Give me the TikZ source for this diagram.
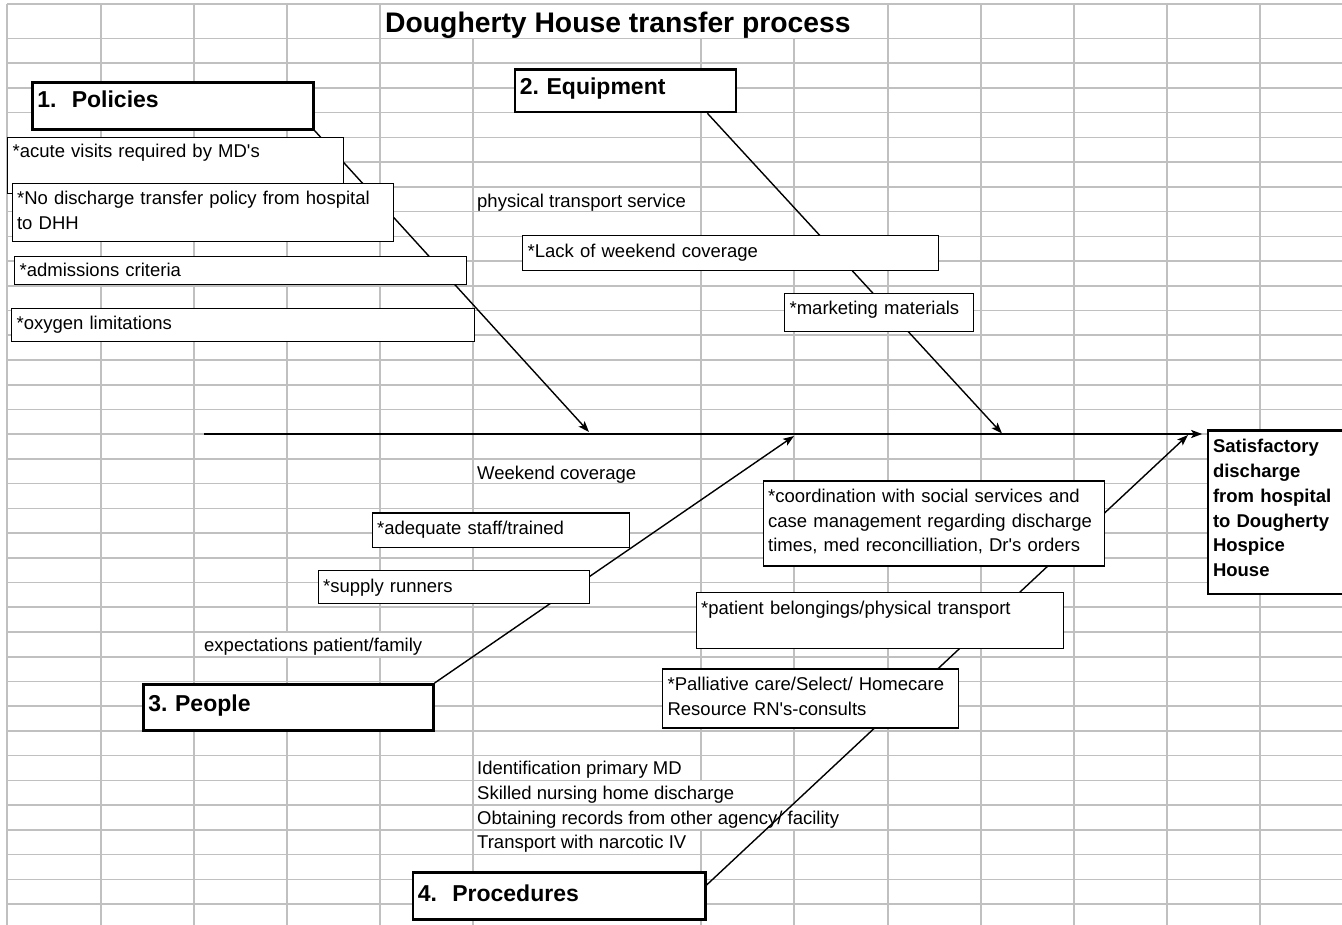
\documentclass[tikz,border=0pt]{standalone}
\usepackage{fontspec}
\defaultfontfeatures[\rmfamily,\sffamily]{}
\setmainfont{Liberation Sans}
\usetikzlibrary{arrows.meta}
\definecolor{gridgray}{RGB}{192,192,192}
\frenchspacing
\newcommand\causefont{\frenchspacing\fontsize{18.5}{24.5}\selectfont}
\newcommand\headfont{\frenchspacing\bfseries\fontsize{23}{27}\selectfont}
\newcommand\outfont{\frenchspacing\bfseries\fontsize{18.5}{24.7}\selectfont}
\newcommand\titlefont{\frenchspacing\bfseries\fontsize{28.3}{32}\selectfont}
\pgfdeclarelayer{gridlayer}
\pgfdeclarelayer{linelayer}
\pgfsetlayers{gridlayer,linelayer,main}
% #1 style, #2 name, #3 x, #4 y(top), #5 width, #6 height, #7 first baseline offset, #8 text
\newcommand\mkbox[8]{%
  \pgfmathsetmacro\mkbW{#5-10}%
  \pgfmathsetmacro\mkbD{#6-#7}%
  \node[#1, text width=\mkbW pt, text height=#7pt, text depth=\mkbD pt] (#2) at (#3,#4) {#8};}
\tikzset{
  gridline/.style={draw=gridgray, line width=1.6pt},
  cause/.style={draw=black, line width=1.2pt, fill=white, inner xsep=5pt, inner ysep=0pt, anchor=north west, align=left, font=\causefont},
  head/.style={draw=black, line width=2.6pt, fill=white, inner xsep=5pt, inner ysep=0pt, anchor=north west, align=left, font=\headfont},
  outbox/.style={head, font=\outfont},
  plain/.style={inner sep=0pt, anchor=base west, font=\causefont},
  spine/.style={line width=1.4pt, -{Stealth[length=11pt,width=8pt,inset=2.5pt]}},
  axisline/.style={line width=2pt, -{Stealth[length=11pt,width=8pt,inset=2.5pt]}},
}
\begin{document}
\begin{tikzpicture}[x=1pt,y=-1pt]
\useasboundingbox (0,0) rectangle (1342,925);
\begin{pgfonlayer}{gridlayer}
  \fill[white] (0,0) rectangle (1342,925);
  \draw[gridline] (7,4) -- (1342,4);
  \foreach \k in {0,...,35} \draw[gridline] (7,{38.5+24.73*\k}) -- (1342,{38.5+24.73*\k});
  \foreach \x in {7,101,194,888,981,1074,1167,1260} \draw[gridline] (\x,4) -- (\x,925);
  \foreach \x in {287,380} \draw[gridline] (\x,4) -- (\x,632.0) (\x,656.8) -- (\x,925);
  \draw[gridline] (473,38.5) -- (473,925);
  \draw[gridline] (701,38.5) -- (701,780.4) (701,829.9) -- (701,925);
  \draw[gridline] (794,38.5) -- (794,805.2) (794,829.9) -- (794,925);
\end{pgfonlayer}

% title
\node[font=\titlefont, inner sep=0pt, anchor=base west] (title) at (385,32.5) {Dougherty House transfer process};

% 1. Policies
\mkbox{head}{pol}{31}{81}{281}{47}{25}{1.\ \ Policies}
\mkbox{cause}{acute}{7}{137}{336}{56}{20.3}{*acute visits required by MD's}
\mkbox{cause}{nodis}{11.5}{183}{381.5}{58}{21.3}{\mbox{*No discharge transfer policy from hospital}\\\mbox{to DHH}}
\mkbox{cause}{admis}{14}{256}{452}{28.3}{19.6}{*admissions criteria}
\mkbox{cause}{oxy}{11}{308}{463}{33}{20.6}{*oxygen limitations}

% 2. Equipment
\mkbox{head}{equip}{513.5}{68.3}{221.3}{42.4}{24.9}{2. Equipment}
\node[plain] (phys) at (477,207.6) {physical transport service};
\mkbox{cause}{lack}{522}{235}{416}{35}{21.6}{*Lack of weekend coverage}
\mkbox{cause}{mark}{784}{293}{188.6}{38}{20.6}{*marketing materials}

% 3. People
\node[plain] (wkend) at (477,479.3) {Weekend coverage};
\mkbox{cause}{adeq}{371.5}{512.3}{257}{34.4}{21.3}{*adequate staff/trained}
\mkbox{cause}{supply}{317.5}{570}{271.5}{32.7}{21.6}{*supply runners}
\node[plain] (expect) at (204,651.6) {expectations patient/family};
\mkbox{head}{people}{142}{683}{290}{46}{27}{3. People}

% 4. Procedures
\mkbox{cause}{coord}{762.5}{480.3}{341.2}{85}{22}{\mbox{*coordination with social services and}\\\mbox{case management regarding discharge}\\\mbox{times, med reconcilliation, Dr's orders}}
\mkbox{cause}{belong}{695.5}{591.7}{367.5}{56.3}{21.9}{*patient belongings/physical transport}
\mkbox{cause}{pall}{662}{668.3}{296}{59}{21.6}{\mbox{*Palliative care/Select/ Homecare}\\\mbox{Resource RN's-consults}}
\node[plain] (ident) at (477,774.5) {Identification primary MD};
\node[plain] (skill) at (477,799) {Skilled nursing home discharge};
\node[plain] (obtain) at (477,824) {Obtaining records from other agency/ facility};
\node[plain] (trans) at (477,848.5) {Transport with narcotic IV};
\mkbox{head}{proc}{411.5}{871}{292.5}{47}{29}{4.\ \ Procedures}

% outcome
\mkbox{outbox}{outc}{1206.7}{429.3}{137}{163.4}{22.3}{Satisfactory\\discharge\\from hospital\\to Dougherty\\Hospice\\House}

% spine and bones
\coordinate (axstart) at (204,434);
\coordinate (t1) at (589,432);
\coordinate (t2) at (1002,433.5);
\coordinate (t3) at (794,436);
\coordinate (t4) at (1188,435);
\begin{pgfonlayer}{linelayer}
  \draw[axisline, shorten >=4.5pt] (axstart) -- (outc.west |- axstart);
  \draw[spine] (pol.south east) -- (t1);
  \draw[spine] ([xshift=-30pt]equip.south east) -- (t2);
  \draw[spine] (people.north east) -- (t3);
  \draw[spine] ([yshift=-14pt]proc.north east) -- (t4);
\end{pgfonlayer}
\end{tikzpicture}
\end{document}
